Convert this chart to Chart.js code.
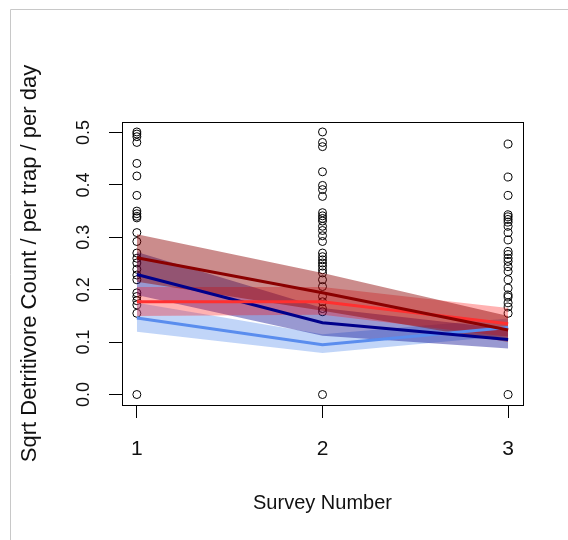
<!DOCTYPE html>
<html>
<head>
<meta charset="utf-8">
<script src="https://cdn.jsdelivr.net/npm/chart.js@4.4.1/dist/chart.umd.min.js"></script>
<style>
  html, body { margin: 0; padding: 0; background: #fff; }
  #wrap { width: 568px; height: 540px; }
</style>
</head>
<body>
<div id="wrap"><canvas id="c" width="568" height="540"></canvas></div>
<script>
/* survey plot — observations + fitted lines with CI bands */
const surveys = [1, 2, 3];
const xTicks = [1, 2, 3];
const yTicks = [0, 0.1, 0.2, 0.3, 0.4, 0.5];
const yTickLabels = ['0.0', '0.1', '0.2', '0.3', '0.4', '0.5'];

// raw observations per survey (sqrt counts)
const survey1Obs = [0.501, 0.497, 0.492, 0.481, 0.441, 0.417, 0.380, 0.350, 0.345, 0.340, 0.337,
  0.309, 0.292, 0.270, 0.260, 0.251, 0.239, 0.228, 0.219, 0.194, 0.187, 0.179, 0.171, 0.155, 0];
const survey2Obs = [0.501, 0.481, 0.473, 0.425, 0.399, 0.391, 0.378, 0.347, 0.341, 0.336, 0.331,
  0.321, 0.313, 0.303, 0.292, 0.270, 0.263, 0.257, 0.251, 0.245, 0.238, 0.232, 0.219, 0.206,
  0.187, 0.177, 0.164, 0.158, 0];
const survey3Obs = [0.478, 0.415, 0.380, 0.343, 0.339, 0.334, 0.329, 0.321, 0.309, 0.295, 0.273,
  0.267, 0.260, 0.254, 0.244, 0.235, 0.219, 0.203, 0.190, 0.186, 0.175, 0.167, 0.155, 0];

// fitted values and confidence limits
const darkRedFit   = [0.261, 0.194, 0.123];
const darkRedUpper = [0.306, 0.232, 0.150];
const darkRedLower = [0.215, 0.160, 0.100];
const redFit   = [0.177, 0.177, 0.135];
const redUpper = [0.205, 0.205, 0.165];
const redLower = [0.150, 0.152, 0.110];
const navyFit   = [0.229, 0.137, 0.105];
const navyUpper = [0.272, 0.165, 0.125];
const navyLower = [0.190, 0.112, 0.088];
const blueFit   = [0.146, 0.095, 0.128];
const blueUpper = [0.175, 0.115, 0.145];
const blueLower = [0.120, 0.079, 0.112];

const xy = arr => arr.map((v, i) => ({ x: surveys[i], y: v }));

function fitLine(values, color, order) {
  return { data: xy(values), borderColor: color, borderWidth: 3, pointRadius: 0, fill: false, order };
}
function band(upper, lower, color, order) {
  return [
    { data: xy(upper), borderWidth: 0, pointRadius: 0, backgroundColor: color, fill: '+1', order },
    { data: xy(lower), borderWidth: 0, pointRadius: 0, fill: false, order }
  ];
}

const obsPoints = [];
[survey1Obs, survey2Obs, survey3Obs].forEach((vals, i) => {
  vals.forEach(v => obsPoints.push({ x: surveys[i], y: v }));
});

const font = "'Liberation Sans', Arial, sans-serif";

const frame = {
  id: 'frame',
  beforeDraw(chart) {
    const c = chart.ctx;
    c.save();
    c.strokeStyle = '#c8c8c8';
    c.lineWidth = 1;
    c.beginPath();
    c.moveTo(10.5, 540); c.lineTo(10.5, 9.5); c.lineTo(568, 9.5);
    c.stroke();
    c.restore();
  },
  afterDraw(chart) {
    const c = chart.ctx, a = chart.chartArea;
    const xs = chart.scales.x, ys = chart.scales.y;
    c.save();
    c.strokeStyle = '#000';
    c.lineWidth = 1;
    c.strokeRect(Math.round(a.left) + 0.5, Math.round(a.top) + 0.5,
      Math.round(a.right - a.left), Math.round(a.bottom - a.top));
    c.fillStyle = '#111';
    // x tick labels
    c.font = '21px ' + font;
    c.textAlign = 'center';
    c.textBaseline = 'alphabetic';
    xTicks.forEach(v => c.fillText(String(v), xs.getPixelForValue(v), 455));
    // x title
    c.font = '20px ' + font;
    c.fillText('Survey Number', (a.left + a.right) / 2, 509);
    // y tick labels (rotated)
    c.font = '18px ' + font;
    yTicks.forEach((v, i) => {
      c.save();
      c.translate(89, ys.getPixelForValue(v));
      c.rotate(-Math.PI / 2);
      c.fillText(yTickLabels[i], 0, 0);
      c.restore();
    });
    // y title
    c.font = '22px ' + font;
    c.save();
    c.translate(36, (a.top + a.bottom) / 2);
    c.rotate(-Math.PI / 2);
    c.fillText('Sqrt Detritivore Count / per trap / per day', 0, 0);
    c.restore();
    c.restore();
  }
};

new Chart(document.getElementById('c'), {
  type: 'line',
  data: {
    datasets: [
      fitLine(darkRedFit, '#8b0000', 0),
      fitLine(redFit, '#ff3030', 0),
      fitLine(navyFit, '#00008b', 0),
      fitLine(blueFit, '#5a8dee', 0),
      ...band(darkRedUpper, darkRedLower, 'rgba(139,0,0,0.45)', 1),
      ...band(redUpper, redLower, 'rgba(255,0,0,0.30)', 1),
      ...band(navyUpper, navyLower, 'rgba(0,0,139,0.40)', 1),
      ...band(blueUpper, blueLower, 'rgba(100,149,237,0.40)', 1),
      {
        type: 'scatter', data: obsPoints, order: 2,
        pointStyle: 'circle', pointRadius: 4, borderWidth: 1,
        borderColor: '#000', backgroundColor: 'rgba(0,0,0,0)', showLine: false
      }
    ]
  },
  options: {
    responsive: false,
    animation: false,
    layout: { padding: { top: 122, right: 45, left: 0, bottom: 0 } },
    plugins: { legend: { display: false }, tooltip: { enabled: false } },
    scales: {
      x: {
        type: 'linear', min: 0.92, max: 3.08,
        afterBuildTicks: s => { s.ticks = xTicks.map(v => ({ value: v })); },
        afterFit: s => { s.height = 135; },
        ticks: { display: false },
        grid: { drawOnChartArea: false, drawTicks: true, tickLength: 13, color: '#000' },
        border: { display: false }
      },
      y: {
        type: 'linear', min: -0.02, max: 0.52,
        afterBuildTicks: s => { s.ticks = yTicks.map(v => ({ value: v })); },
        afterFit: s => { s.width = 122; },
        ticks: { display: false },
        grid: { drawOnChartArea: false, drawTicks: true, tickLength: 13, color: '#000' },
        border: { display: false }
      }
    }
  },
  plugins: [frame]
});
</script>
</body>
</html>
